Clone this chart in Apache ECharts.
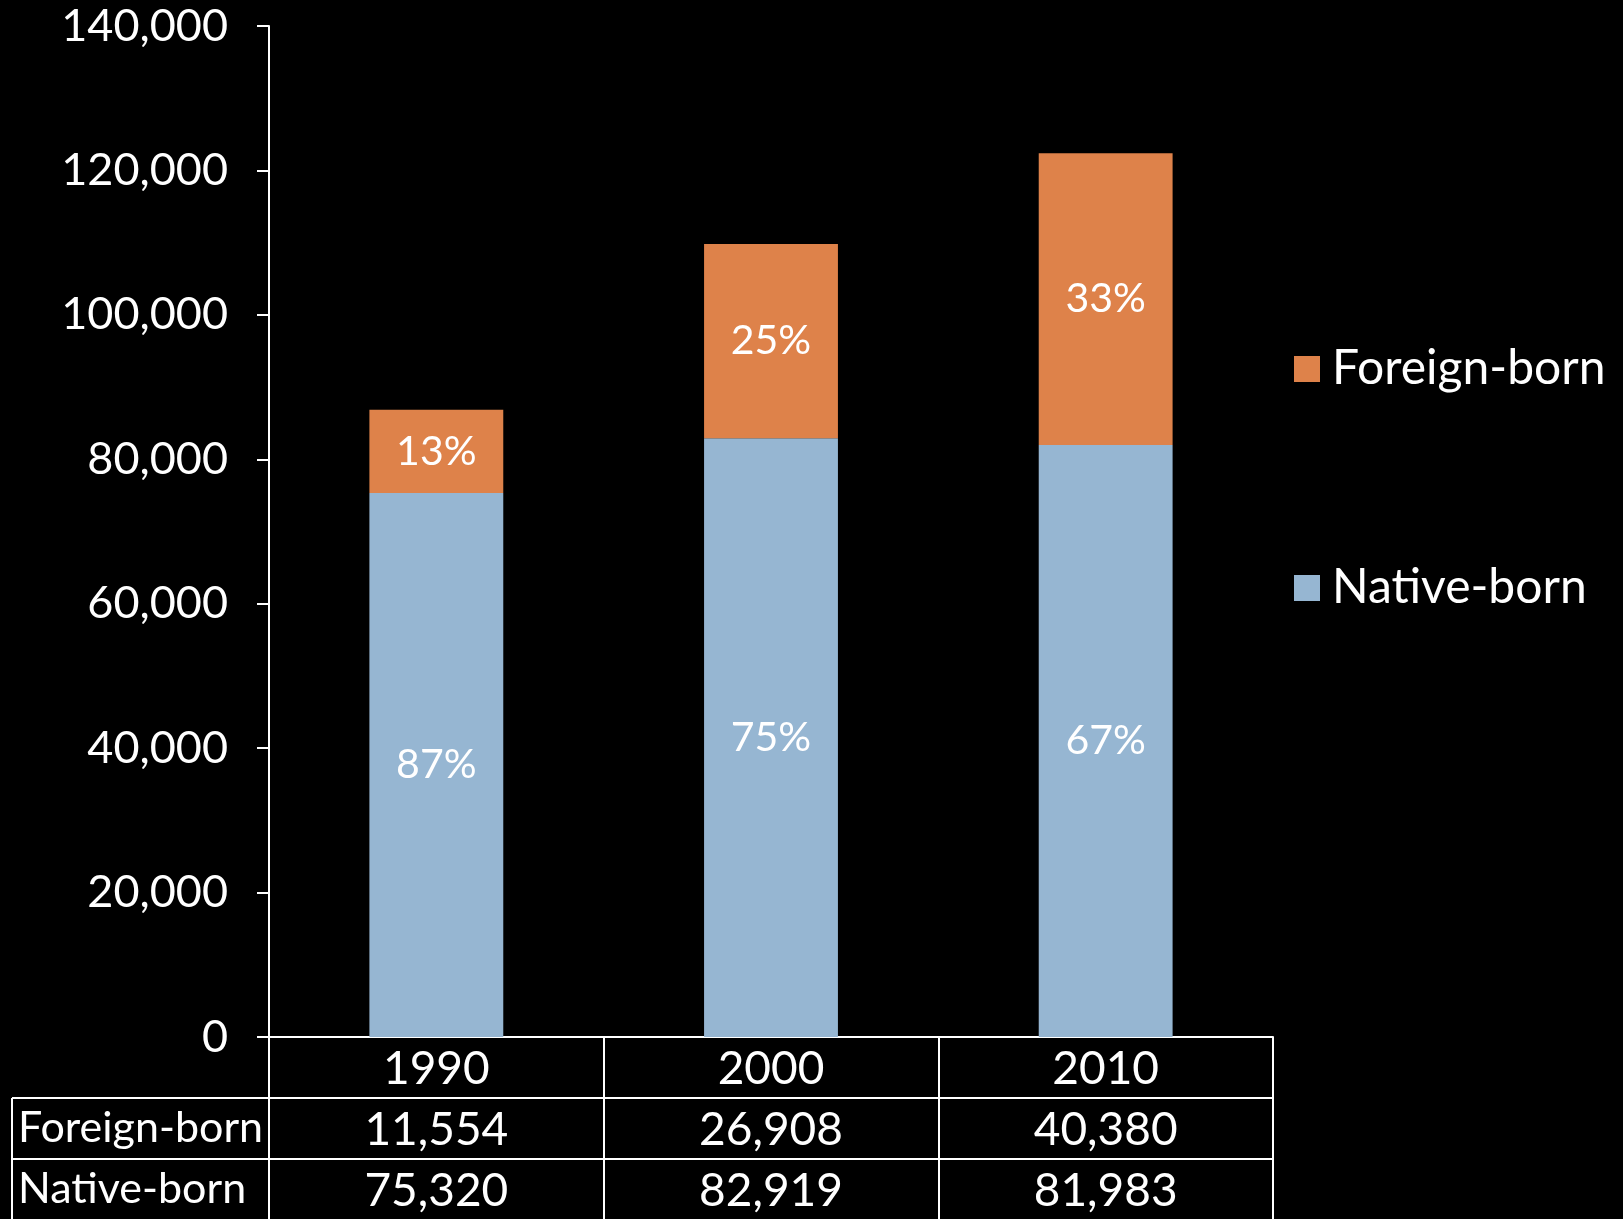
<!DOCTYPE html>
<html>
<head>
<meta charset="utf-8">
<script src="https://cdn.jsdelivr.net/npm/echarts@6/dist/echarts.min.js"></script>
<style>
html,body{margin:0;padding:0;background:#000;}
#chart{width:1623px;height:1219px;}
</style>
</head>
<body>
<div id="chart"></div>
<script>
const years = ['1990', '2000', '2010'];
const foreignBorn = [11554, 26908, 40380];
const nativeBorn = [75320, 82919, 81983];
const seriesNames = ['Foreign-born', 'Native-born'];
const yMin = 0, yMax = 140000, yStep = 20000;

const FONT = 'Lato';
const fmt = v => Number(v).toLocaleString('en-US');
const pct = (a, b) => Math.round(a / (a + b) * 100) + '%';

const G = {left: 269, top: 26, right: 1273, bottom: 1037};
const rowH = 61;

const chart = echarts.init(document.getElementById('chart'), null, {renderer: 'canvas'});
const cellLabel = {color: '#fff', fontFamily: FONT, fontSize: 46, margin: 9, interval: 0};

chart.setOption({
  backgroundColor: '#000',
  animation: false,
  grid: {left: G.left, top: G.top, width: G.right - G.left, height: G.bottom - G.top, containLabel: false},
  legend: {
    orient: 'vertical', left: 1289, top: 340,
    data: seriesNames, itemWidth: 26, itemHeight: 26, itemGap: 171,
    icon: 'rect',
    textStyle: {color: '#fff', fontFamily: FONT, fontSize: 48, padding: [0, 0, 0, 7]}
  },
  xAxis: [
    {type: 'category', data: years, position: 'bottom',
     axisLine: {show: true, lineStyle: {color: '#fff', width: 2}},
     axisTick: {show: true, length: 3 * rowH + 1, lineStyle: {color: '#fff', width: 2}},
     axisLabel: cellLabel},
    {type: 'category', data: foreignBorn.map(fmt), position: 'bottom', offset: rowH,
     axisLine: {show: false}, axisTick: {show: false}, axisLabel: cellLabel},
    {type: 'category', data: nativeBorn.map(fmt), position: 'bottom', offset: 2 * rowH,
     axisLine: {show: false}, axisTick: {show: false}, axisLabel: cellLabel}
  ],
  yAxis: {
    type: 'value', min: yMin, max: yMax, interval: yStep,
    axisLine: {show: true, lineStyle: {color: '#fff', width: 2}},
    axisTick: {show: true, length: 12, lineStyle: {color: '#fff', width: 2}},
    splitLine: {show: false},
    axisLabel: {color: '#fff', fontFamily: FONT, fontSize: 45, margin: 41, formatter: fmt}
  },
  series: [
    {name: 'Native-born', type: 'bar', stack: 'total', xAxisIndex: 0, data: nativeBorn,
     barWidth: '40%', itemStyle: {color: '#96B6D2'},
     label: {show: true, position: 'inside', color: '#fff', fontFamily: FONT, fontSize: 41,
             formatter: p => pct(nativeBorn[p.dataIndex], foreignBorn[p.dataIndex])}},
    {name: 'Foreign-born', type: 'bar', stack: 'total', xAxisIndex: 0, data: foreignBorn,
     barWidth: '40%', itemStyle: {color: '#DE824A'},
     label: {show: true, position: 'inside', color: '#fff', fontFamily: FONT, fontSize: 41,
             formatter: p => pct(foreignBorn[p.dataIndex], nativeBorn[p.dataIndex])}}
  ],
  graphic: [
    {type: 'line', shape: {x1: 12, y1: G.bottom + rowH, x2: G.right, y2: G.bottom + rowH}, style: {stroke: '#fff', lineWidth: 2}},
    {type: 'line', shape: {x1: 12, y1: G.bottom + 2 * rowH, x2: G.right, y2: G.bottom + 2 * rowH}, style: {stroke: '#fff', lineWidth: 2}},
    {type: 'line', shape: {x1: 12, y1: G.bottom + 3 * rowH, x2: G.right, y2: G.bottom + 3 * rowH}, style: {stroke: '#fff', lineWidth: 2}},
    {type: 'line', shape: {x1: 12, y1: G.bottom + rowH, x2: 12, y2: G.bottom + 3 * rowH}, style: {stroke: '#fff', lineWidth: 2}},
    {type: 'text', x: 18, y: G.bottom + 1.5 * rowH, style: {text: seriesNames[0], fill: '#fff', font: '43px ' + FONT, textVerticalAlign: 'middle'}},
    {type: 'text', x: 18, y: G.bottom + 2.5 * rowH, style: {text: seriesNames[1], fill: '#fff', font: '43px ' + FONT, textVerticalAlign: 'middle'}}
  ]
});
</script>
</body>
</html>
